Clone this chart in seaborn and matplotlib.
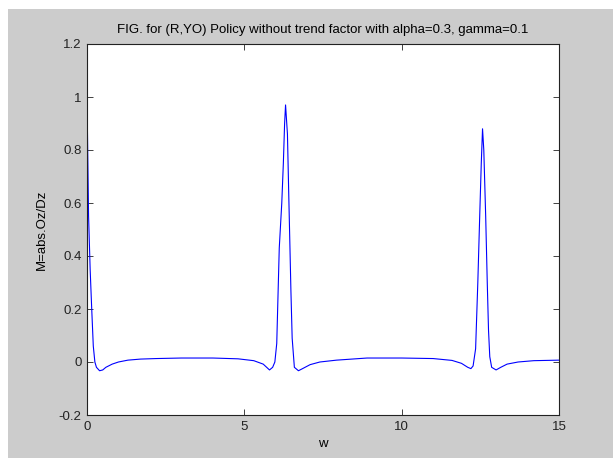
import numpy as np
import pandas as pd
import seaborn as sns
import matplotlib.pyplot as plt
from matplotlib.patches import Rectangle

# frequency w and magnitude M
w = [0.0, 0.05, 0.1, 0.15, 0.2, 0.25, 0.3, 0.4, 0.5, 0.6, 0.8, 1.0, 1.3, 1.7,
     2.2, 3.0, 4.0, 4.8, 5.3, 5.6, 5.8, 5.9, 5.97, 6.03, 6.11, 6.19, 6.24,
     6.28, 6.31, 6.37, 6.41, 6.45, 6.48, 6.52, 6.59, 6.72, 6.85, 7.09, 7.4,
     7.93, 8.9, 10.0, 11.0, 11.6, 11.9, 12.1, 12.2, 12.27, 12.35, 12.42,
     12.48, 12.53, 12.57, 12.61, 12.67, 12.72, 12.76, 12.8, 12.86, 13.0,
     13.15, 13.35, 13.7, 14.2, 15.0]
M = [1.0, 0.55, 0.35, 0.2, 0.06, 0.0, -0.02, -0.033, -0.03, -0.02, -0.008,
     0.0, 0.007, 0.011, 0.013, 0.015, 0.015, 0.012, 0.005, -0.008, -0.03,
     -0.02, 0.0, 0.07, 0.43, 0.6, 0.75, 0.9, 0.97, 0.86, 0.64, 0.43, 0.27,
     0.09, -0.02, -0.033, -0.025, -0.01, 0.0, 0.007, 0.015, 0.015, 0.013,
     0.006, -0.005, -0.02, -0.025, -0.015, 0.05, 0.3, 0.55, 0.75, 0.88, 0.8,
     0.55, 0.3, 0.12, 0.02, -0.02, -0.03, -0.02, -0.008, 0.0, 0.005, 0.007]

df = pd.DataFrame({"w": w, "M": M})

fig = plt.figure(figsize=(6.13, 4.58), dpi=100, facecolor="white")
# matlab-style gray figure area
fig.patches.append(Rectangle((8 / 613, 0), 1, (458 - 9) / 458,
                             transform=fig.transFigure, facecolor="#cccccc",
                             edgecolor="none", zorder=-1))
ax = fig.add_axes([87 / 613, 43 / 458, 472 / 613, 371 / 458])
ax.set_facecolor("white")

sns.lineplot(data=df, x="w", y="M", color="blue", linewidth=0.8, sort=False, ax=ax)

ax.set_xlim(0, 15)
ax.set_ylim(-0.2, 1.2)
ax.set_xticks([0, 5, 10, 15])
ax.set_yticks([-0.2, 0, 0.2, 0.4, 0.6, 0.8, 1.0, 1.2])
ax.set_xticklabels(["0", "5", "10", "15"])
ax.set_yticklabels(["-0.2", "0", "0.2", "0.4", "0.6", "0.8", "1", "1.2"])

font = ["Liberation Sans", "DejaVu Sans"]
for lab in ax.get_xticklabels() + ax.get_yticklabels():
    lab.set_family(font)
    lab.set_fontsize(9.5)
ax.tick_params(direction="in", length=4, width=0.6, colors="#222222",
               top=True, right=True, pad=4)
for sp in ax.spines.values():
    sp.set_linewidth(0.8)
    sp.set_color("#222222")

ax.set_xlabel("w", family=font, fontsize=9.5, labelpad=4)
ax.set_ylabel("M=abs.Oz/Dz", family=font, fontsize=9.5, labelpad=8)
ax.set_title("FIG. for (R,YO) Policy without trend factor with alpha=0.3, gamma=0.1",
             family=font, fontsize=9.5, pad=8)

fig.savefig("out.png", dpi=100, facecolor=fig.get_facecolor())
